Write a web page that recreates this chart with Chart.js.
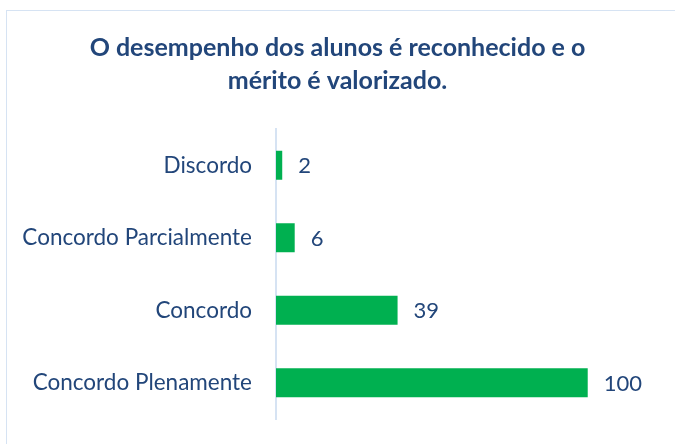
<!DOCTYPE html>
<html>
<head>
<meta charset="utf-8">
<script src="https://cdn.jsdelivr.net/npm/chart.js@4/dist/chart.umd.min.js"></script>
<style>
  html, body { margin: 0; padding: 0; background: #ffffff; }
  #wrap { position: relative; width: 675px; height: 444px; overflow: hidden; }
  #frame { position: absolute; left: 6px; top: 10px; width: 700px; height: 460px;
           border-left: 1.5px solid #D6E3F3; border-top: 1.5px solid #D6E3F3; box-sizing: border-box; }
  canvas { position: absolute; left: 0; top: 0; }
</style>
</head>
<body>
<div id="wrap">
  <div id="frame"></div>
  <canvas id="c" width="675" height="444"></canvas>
</div>
<script>
const titleLines = ["O desempenho dos alunos é reconhecido e o", "mérito é valorizado."];
const categories = ["Discordo", "Concordo Parcialmente", "Concordo", "Concordo Plenamente"];
const values = [2, 6, 39, 100];
const axisMax = 128;

const textColor = "#22467A";
const barColor = "#00B050";

const valueLabels = {
  id: "valueLabels",
  afterDatasetsDraw(chart) {
    const ctx = chart.ctx;
    const meta = chart.getDatasetMeta(0);
    ctx.save();
    ctx.font = "22px Lato";
    ctx.fillStyle = textColor;
    ctx.textAlign = "left";
    ctx.textBaseline = "middle";
    meta.data.forEach((bar, i) => {
      ctx.fillText(String(values[i]), bar.x + 16, bar.y + 1);
    });
    ctx.restore();
  }
};

new Chart(document.getElementById("c"), {
  type: "bar",
  data: {
    labels: categories,
    datasets: [{
      data: values,
      backgroundColor: barColor,
      borderWidth: 0,
      categoryPercentage: 0.8,
      barPercentage: 0.5
    }]
  },
  options: {
    indexAxis: "y",
    responsive: false,
    animation: false,
    devicePixelRatio: 1,
    layout: { padding: { left: 0, right: 0, top: 32, bottom: 25 } },
    plugins: {
      legend: { display: false },
      tooltip: { enabled: false },
      title: {
        display: true,
        text: titleLines,
        color: textColor,
        font: { family: "Lato", size: 25, weight: "bold", lineHeight: 1.3 },
        padding: { top: 0, bottom: 32 }
      }
    },
    scales: {
      x: {
        display: false,
        min: 0,
        max: axisMax
      },
      y: {
        grid: { display: true, drawOnChartArea: false, drawTicks: true, tickLength: 24, color: "rgba(0,0,0,0)" },
        border: { display: true, color: "#D6E3F3", width: 2 },
        ticks: {
          color: textColor,
          font: { family: "Lato", size: 22.5 },
          padding: 0
        },
        afterFit(scale) { scale.width = 276; }
      }
    }
  },
  plugins: [valueLabels]
});
</script>
</body>
</html>
